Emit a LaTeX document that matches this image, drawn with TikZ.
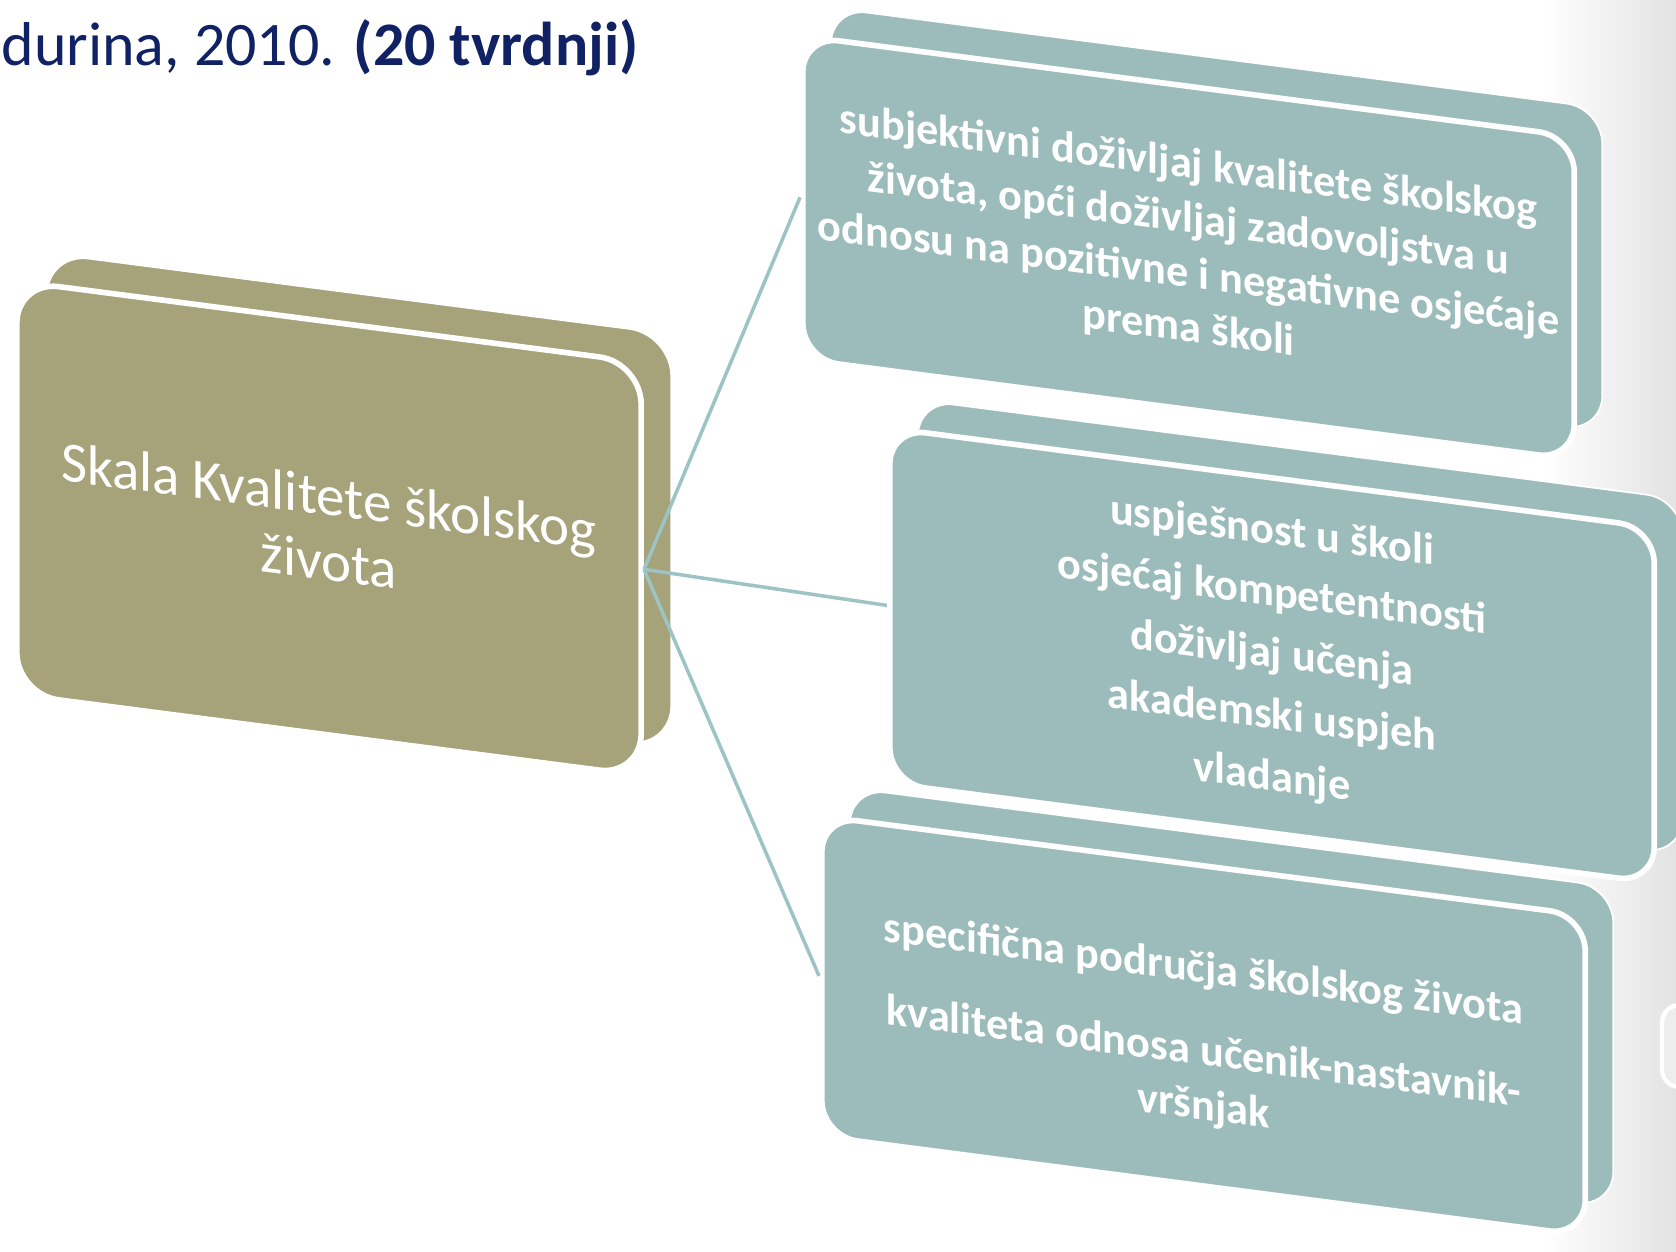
\documentclass[tikz,border=0pt]{standalone}
\usepackage{fontspec}
\setmainfont{Carlito}
\definecolor{skolive}{RGB}{166,162,122}
\definecolor{skteal}{RGB}{155,188,186}
\definecolor{sklink}{RGB}{157,195,196}
\definecolor{sknavy}{RGB}{16,34,100}

\begin{document}
\begin{tikzpicture}[x=0.01cm, y=-0.01cm,
    olivebox/.style={rectangle, rounded corners=0.42cm, fill=skolive, draw=white, line width=1.6pt,
        transform shape, anchor=north west, minimum width=6.24cm, minimum height=4.13cm,
        text=white, align=center, font=\fontsize{16.2}{18.5}\selectfont},
    olivebackbox/.style={olivebox, line width=0.5pt},
    tealbox/.style={rectangle, rounded corners=0.36cm, fill=skteal, draw=white, line width=1.6pt,
        transform shape, anchor=north west, text=white, align=center,
        font=\fontsize{12.6}{15.5}\selectfont\bfseries},
    tealbackbox/.style={tealbox, line width=0.5pt},
    link/.style={draw=sklink, line width=1pt}
]
\useasboundingbox (0,0) rectangle (1676,1252);
\shade[left color=white, right color=black!11] (1540,0) rectangle (1676,1252);
\draw[white, line width=1.2pt, rounded corners=5pt, fill=black!7] (1662,1005) rectangle (1720,1087);

% title line
\node[anchor=base west, inner sep=0pt, text=sknavy, font=\fontsize{17.6}{21}\selectfont] (title) at (1,66)
    {durina, 2010. \textbf{(20 tvrdnji)}};

% left box
\begin{scope}[shift={(14,278)}, yslant=-0.13]
  \node[olivebackbox] (skalaback) at (32,-30) {};
  \node[olivebox] (skala) at (0,0) {Skala Kvalitete školskog\\života};
\end{scope}

% right boxes
\begin{scope}[shift={(800,33)}, yslant=-0.13]
  \node[tealbackbox, minimum width=7.71cm, minimum height=3.23cm] (subjback) at (30,-30) {};
  \node[tealbox, minimum width=7.71cm, minimum height=3.23cm] (subj) at (0,0)
    {subjektivni doživljaj kvalitete školskog\\života, opći doživljaj zadovoljstva u\\odnosu na pozitivne i negativne osjećaje\\prema školi};
\end{scope}
\begin{scope}[shift={(887,425)}, yslant=-0.13]
  \node[tealbackbox, minimum width=7.64cm, minimum height=3.55cm] (uspjback) at (30,-30) {};
  \node[tealbox, minimum width=7.64cm, minimum height=3.55cm] (uspj) at (0,0)
    {uspješnost u školi\\[2pt]osjećaj kompetentnosti\\[2pt]doživljaj učenja\\[2pt]akademski uspjeh\\[2pt]vladanje};
\end{scope}
\begin{scope}[shift={(819,813)}, yslant=-0.13]
  \node[tealbackbox, minimum width=7.63cm, minimum height=3.2cm] (specback) at (30,-30) {};
  \node[tealbox, minimum width=7.63cm, minimum height=3.2cm] (spec) at (0,0)
    {\rule{0pt}{16.5pt}specifična područja školskog života\\[8pt]kvaliteta odnosa učenik-nastavnik-\\vršnjak};
\end{scope}

\draw[link] (skala.east) -- (subj.west);
\draw[link] (skala.east) -- (uspj.west);
\draw[link] (skala.east) -- (spec.west);
\end{tikzpicture}
\end{document}
